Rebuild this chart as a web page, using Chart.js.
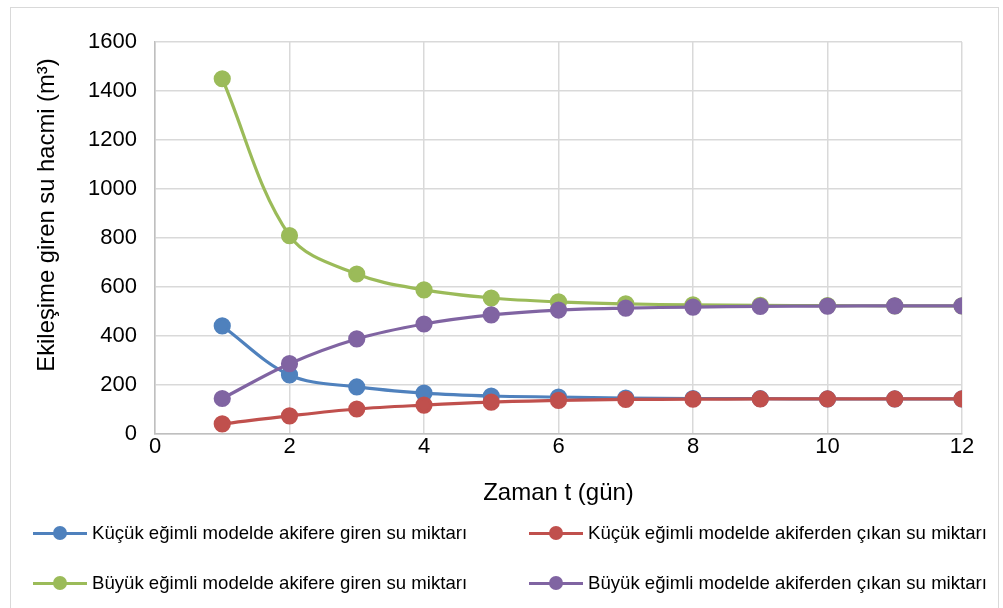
<!DOCTYPE html>
<html>
<head>
<meta charset="utf-8">
<script src="https://cdn.jsdelivr.net/npm/chart.js@4"></script>
<style>
	body { margin: 0; background: #fff; font-family: "Liberation Sans", Arial, sans-serif; }
	#wrap { position: relative; width: 1003px; height: 608px; }
	#frame { position: absolute; left: 10px; top: 7px; width: 989px; height: 605px; border: 1.5px solid #d9d9d9; box-sizing: border-box; pointer-events: none; }
	.leg { position: absolute; height: 20px; display: flex; align-items: center; font-size: 18.6px; color: #000; white-space: nowrap; }
	.leg .mk { position: relative; width: 54px; height: 20px; margin-right: 5px; }
	.leg .mk .ln { position: absolute; left: 0; right: 0; top: 8.5px; height: 3px; }
	.leg .mk .dt { position: absolute; left: 20px; top: 3px; width: 14px; height: 14px; border-radius: 50%; }
</style>
</head>
<body>
<div id="wrap">
	<canvas id="chartCanvas" width="1003" height="608"></canvas>
	<div id="frame"></div>
	<div id="legend"></div>
</div>
<script>
// 數據
const days = [1, 2, 3, 4, 5, 6, 7, 8, 9, 10, 11, 12];
const kucukGiren = [441, 241, 192, 167, 155, 151, 147, 145, 144, 143, 143, 143];
const kucukCikan = [41, 74, 102, 118, 130, 137, 141, 142, 143, 143, 143, 143];
const buyukGiren = [1450, 810, 653, 588, 555, 539, 531, 527, 525, 524, 523, 523];
const buyukCikan = [145, 287, 388, 449, 486, 506, 514, 518, 521, 522, 523, 523];
const seriesLabels = [
	"Küçük eğimli modelde akifere giren su miktarı",
	"Küçük eğimli modelde akiferden çıkan su miktarı",
	"Büyük eğimli modelde akifere giren su miktarı",
	"Büyük eğimli modelde akiferden çıkan su miktarı"
];
const colors = ["#4f81bd", "#c0504d", "#9bbb59", "#8064a2"];
const xTitle = "Zaman t (gün)";
const yTitle = "Ekileşime giren su hacmi (m³)";

const font = "'Liberation Sans', Arial, sans-serif";

function toPoints(values) {
	return days.map((d, i) => ({ x: d, y: values[i] }));
}

const allSeries = [kucukGiren, kucukCikan, buyukGiren, buyukCikan];

const datasets = allSeries.map((vals, i) => ({
	label: seriesLabels[i],
	data: toPoints(vals),
	borderColor: colors[i],
	backgroundColor: colors[i],
	borderWidth: 3.2,
	pointRadius: 7,
	pointHoverRadius: 7,
	tension: 0.35,
	fill: false,
	order: allSeries.length - i, // 後面的系列畫在上面
}));

// Y 軸標題（自己畫，位置跟原圖一樣偏上）
const yTitlePlugin = {
	id: "yTitle",
	afterDraw(c) {
		const g = c.ctx;
		g.save();
		g.translate(47, 215);
		g.rotate(-Math.PI / 2);
		g.font = "23.8px " + font;
		g.fillStyle = "#000";
		g.textAlign = "center";
		g.textBaseline = "middle";
		g.fillText(yTitle, 0, 0);
		g.restore();
	},
};

const ctx = document.getElementById("chartCanvas").getContext("2d");
const chart = new Chart(ctx, {
	type: "line",
	data: { datasets },
	plugins: [yTitlePlugin],
	options: {
		responsive: false,
		animation: false,
		layout: { padding: { left: 0, right: 41, top: 42, bottom: 100 } },
		plugins: { legend: { display: false }, tooltip: { enabled: false } },
		scales: {
			x: {
				type: "linear",
				min: 0,
				max: 12,
				ticks: { stepSize: 2, color: "#000", font: { family: font, size: 22 }, padding: 0 },
				grid: { color: "#d9d9d9", lineWidth: 1.5, drawTicks: false },
				border: { color: "#bfbfbf", width: 1.5 },
				title: { display: true, text: xTitle, color: "#000", font: { family: font, size: 24 }, padding: { top: 4, bottom: 0 } },
				afterFit: (s) => { s.height = 74; },
			},
			y: {
				min: 0,
				max: 1600,
				ticks: {
					stepSize: 200,
					color: "#000",
					font: { family: font, size: 22 },
					padding: 18,
					callback: (v) => String(v),
				},
				grid: { color: "#d9d9d9", lineWidth: 1.5, drawTicks: false },
				border: { color: "#bfbfbf", width: 1.5 },
				afterFit: (s) => { s.width = 155; },
			},
		},
	},
});

// 圖例
const legendPos = [
	{ left: 33, top: 523 },
	{ left: 529, top: 523 },
	{ left: 33, top: 573 },
	{ left: 529, top: 573 },
];
const legend = document.getElementById("legend");
seriesLabels.forEach((lab, i) => {
	const el = document.createElement("div");
	el.className = "leg";
	el.style.left = legendPos[i].left + "px";
	el.style.top = legendPos[i].top + "px";
	el.innerHTML = `<span class="mk"><span class="ln" style="background:${colors[i]}"></span><span class="dt" style="background:${colors[i]}"></span></span><span>${lab}</span>`;
	legend.appendChild(el);
});
</script>
</body>
</html>
